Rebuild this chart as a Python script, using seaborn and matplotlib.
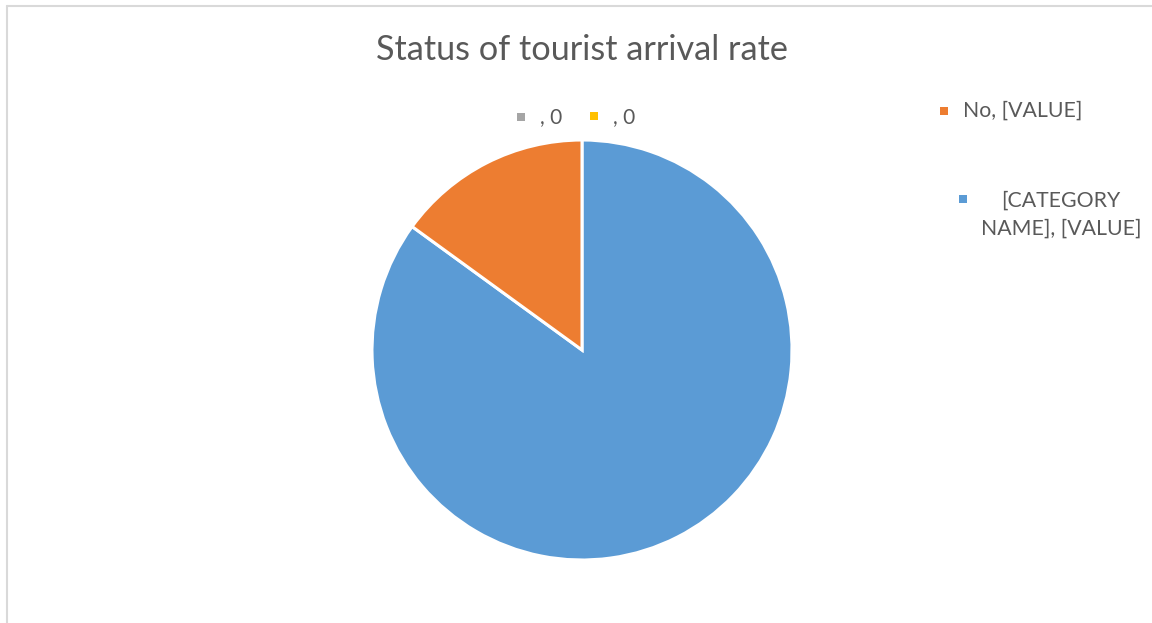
import matplotlib
matplotlib.use("Agg")
import matplotlib.pyplot as plt
from matplotlib.patches import Rectangle
from matplotlib.lines import Line2D
import seaborn as sns

# Chart data
categories = ["[CATEGORY NAME]", "No", "", ""]
shares = [85, 15, 0, 0]
colors = ["#5B9BD5", "#ED7D31", "#A5A5A5", "#FFC000"]
title = "Status of tourist arrival rate"

sns.set_theme(style="white")
plt.rcParams["font.family"] = ["Lato", "DejaVu Sans"]

W, H = 1152, 623
fig = plt.figure(figsize=(W / 100, H / 100), dpi=100)
fig.patch.set_facecolor("white")


def fx(px):
    return px / W


def fy(py):
    return 1 - py / H


# Pie area (centre and radius in pixels)
cx, cy, r = 582, 350, 210
ax = fig.add_axes([fx(cx - r), fy(cy + r), 2 * r / W, 2 * r / H])
nonzero = [(s, c) for s, c in zip(shares, colors) if s > 0]
ax.pie([s for s, _ in nonzero], colors=[c for _, c in nonzero],
       startangle=90, counterclock=False,
       wedgeprops=dict(edgecolor="white", linewidth=2.2))
ax.set_aspect("equal")
ax.set_xlim(-1.0, 1.0)
ax.set_ylim(-1.0, 1.0)
ax.axis("off")

txt = "#595959"
fig.text(fx(582), fy(50), title, ha="center", va="center",
         fontsize=24.7, color=txt)


def square(px, py, color, size=8):
    fig.add_artist(Rectangle((fx(px - size / 2), fy(py + size / 2)),
                             size / W, size / H, transform=fig.transFigure,
                             facecolor=color, edgecolor="none"))


# Labels of zero-valued categories
square(521, 117, colors[2])
fig.text(fx(540), fy(117), f"{categories[2]}, {shares[2]}", ha="left",
         va="center", fontsize=15, color=txt)
square(594, 116, colors[3])
fig.text(fx(613), fy(117), f"{categories[3]}, {shares[3]}", ha="left",
         va="center", fontsize=15, color=txt)

# Legend entries
square(944, 111, colors[1])
fig.text(fx(963), fy(111), f"{categories[1]}, [VALUE]", ha="left",
         va="center", fontsize=15.3, color=txt)
square(963, 199, colors[0])
fig.text(fx(1061), fy(215), "[CATEGORY\nNAME], [VALUE]", ha="center",
         va="center", fontsize=15.3, color=txt, linespacing=1.5)

# Chart area border (top and left)
fig.add_artist(Line2D([fx(7), fx(W)], [fy(6), fy(6)], transform=fig.transFigure,
                      color="#D9D9D9", linewidth=1.5))
fig.add_artist(Line2D([fx(7), fx(7)], [fy(6), fy(H)], transform=fig.transFigure,
                      color="#D9D9D9", linewidth=1.5))

fig.savefig("out.png", dpi=100, facecolor="white")
